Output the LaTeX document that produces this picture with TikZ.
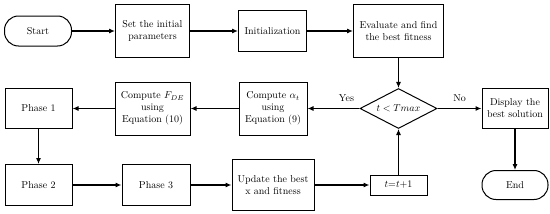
\documentclass[tikz,border=0pt]{standalone}
\usepackage{tikz}
\usetikzlibrary{arrows.meta,positioning,shapes.geometric}

\begin{document}
\begin{tikzpicture}[
  x=1pt,y=1pt,
  b/.style={draw,line width=1pt,align=center,inner sep=2pt},
  term/.style={b,rounded corners=14pt,minimum width=67pt,minimum height=30pt},
  d/.style={draw,line width=1pt,diamond,aspect=1.9,inner sep=1pt,
    minimum width=77pt,minimum height=40pt},
  a/.style={-{Latex[length=6pt,width=5pt]},line width=1.1pt}
]
  \useasboundingbox (0,0) rectangle (550,-214);
  % top row
  \node[term] (start) at (38,-31) {Start};
  \node[b,minimum width=74pt,minimum height=53pt,right=43pt of start] (init) {Set the initial\\parameters};
  \node[b,minimum width=68pt,minimum height=41pt,right=48pt of init] (initz) {Initialization};
  \node[b,minimum width=90pt,minimum height=53pt,right=46pt of initz] (eval) {Evaluate and find\\the best fitness};
  % middle row
  \node[d,below=30pt of eval] (cond) {$t<Tmax$};
  \node[b,minimum width=66pt,minimum height=40pt,right=44pt of cond] (disp) {Display the\\best solution};
  \node[b,minimum width=68pt,minimum height=53pt,left=52pt of cond] (alpha) {Compute $\alpha_t$\\using\\Equation (9)};
  \node[b,minimum width=75pt,minimum height=53pt,left=48pt of alpha] (fde) {Compute $F_{DE}$\\using\\Equation (10)};
  \node[b,minimum width=67pt,minimum height=40pt,left=42pt of fde] (ph1) {Phase 1};
  % bottom row
  \node[b,minimum width=67pt,minimum height=41pt,below=35pt of ph1] (ph2) {Phase 2};
  \node[b,minimum width=68pt,minimum height=41pt,right=49pt of ph2] (ph3) {Phase 3};
  \node[b,minimum width=82pt,minimum height=51pt,right=41pt of ph3] (upd) {Update the best\\x and fitness};
  \node[b,minimum width=57pt,minimum height=20pt,right=55pt of upd] (tinc) {$t$=$t$+1};
  \node[term,minimum width=66pt,minimum height=29pt,below=41pt of disp] (end) {End};
  % connectors
  \foreach \x/\y in {start/init,init/initz,initz/eval,eval/cond,alpha/fde,fde/ph1,ph1/ph2,ph2/ph3,ph3/upd,upd/tinc,tinc/cond,disp/end}
    {\draw[a] (\x) -- (\y);}
  \draw[a] (cond) -- node[pos=0.25,above=3pt] {Yes} (alpha);
  \draw[a] (cond) -- node[above=3pt] {No} (disp);
\end{tikzpicture}
\end{document}
